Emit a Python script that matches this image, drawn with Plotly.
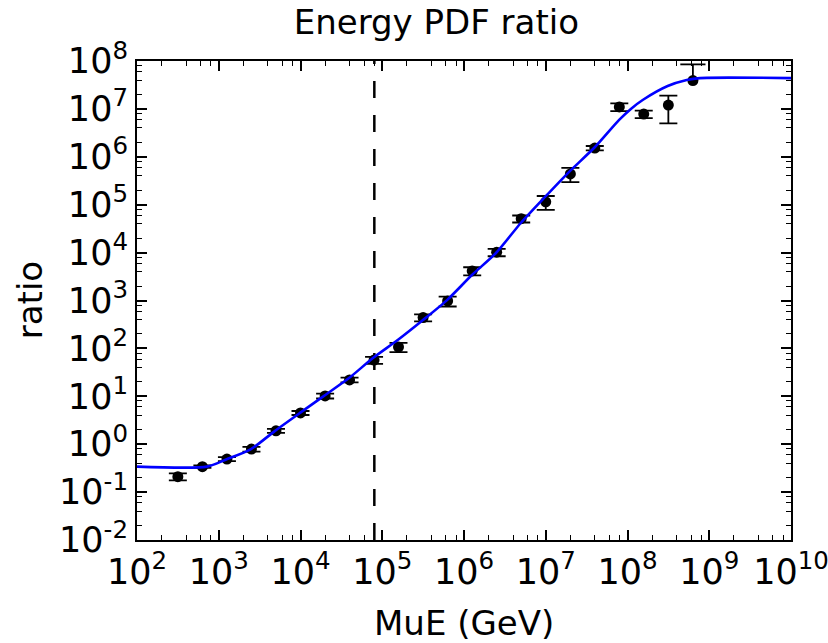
import plotly.graph_objects as go

# Muon energy bin centres (GeV) and measured PDF ratio with its uncertainty
energy = [316, 631, 1259, 2512, 5012, 1.0e4, 2.0e4, 3.98e4, 7.94e4, 1.58e5, 3.16e5,
          6.31e5, 1.26e6, 2.51e6, 5.01e6, 1.0e7, 2.0e7, 3.98e7, 7.94e7, 1.58e8,
          3.16e8, 6.31e8]
ratio = [0.21, 0.34, 0.49, 0.79, 1.9, 4.5, 10.2, 22, 57, 107, 440,
         980, 4150, 1.02e4, 5.1e4, 1.15e5, 4.4e5, 1.52e6, 1.1e7, 7.8e6,
         1.2e7, 3.9e7]
ratio_err = [0.035, 0.02, 0.045, 0.088, 0.18, 0.43, 1.2, 2.5, 9.5, 23, 75,
             230, 800, 1800, 8500, 3.7e4, 1.45e5, 1.6e5, 2.0e6, 1.4e6,
             7.0e6, 4.6e7]

# Smooth fit to the ratio
fit_energy = [100, 718, 1230, 2480, 4880, 9860, 1.94e4, 3.92e4, 7.7e4, 1.56e5,
              3.15e5, 6.2e5, 1.25e6, 2.46e6, 4.98e6, 9.8e6, 1.92e7, 4.0e7,
              7.9e7, 1.1e8, 1.55e8, 3.1e8, 5.3e8, 7.7e8, 1.0e10]
fit_ratio = [0.34, 0.34, 0.48, 0.79, 1.9, 4.5, 10.2, 24, 63, 151,
             390, 1020, 3400, 9800, 4.2e4, 1.45e5, 4.8e5, 1.6e6,
             5.9e6, 1.0e7, 1.55e7, 3.0e7, 4.0e7, 4.4e7, 4.4e7]

# Energy cut
energy_cut = 8.0e4

x_ticks = [10 ** k for k in range(2, 11)]
x_ticktext = ["10<sup>%d</sup>" % k for k in range(2, 11)]
y_ticks = [10 ** k for k in range(-2, 9)]
y_ticktext = ["10<sup>%d</sup>" % k for k in range(-2, 9)]

FONT = "DejaVu Sans"
TICK_SIZE = 35
LABEL_SIZE = 34

# points whose lower error stays positive get full bars; the rest only an upper bar
full = [i for i in range(len(energy)) if ratio[i] - ratio_err[i] > 0]
upper = [i for i in range(len(energy)) if ratio[i] - ratio_err[i] <= 0]

fig = go.Figure()

fig.add_trace(go.Scatter(
    x=[energy_cut, energy_cut], y=[y_ticks[0], y_ticks[-1]], mode="lines",
    line=dict(color="black", width=2.5, dash="17px,17px"), hoverinfo="skip"))

fig.add_trace(go.Scatter(
    x=[energy[i] for i in full], y=[ratio[i] for i in full], mode="markers",
    marker=dict(color="black", size=11),
    error_y=dict(type="data", array=[ratio_err[i] for i in full], symmetric=True,
                 color="black", thickness=1.8, width=9)))

fig.add_trace(go.Scatter(
    x=[energy[i] for i in upper], y=[ratio[i] for i in upper], mode="markers",
    marker=dict(color="black", size=11),
    error_y=dict(type="data", array=[ratio_err[i] for i in upper],
                 arrayminus=[0 for i in upper], symmetric=False,
                 color="black", thickness=1.8, width=0)))
fig.add_trace(go.Scatter(
    x=[energy[i] for i in upper], y=[ratio[i] + ratio_err[i] for i in upper],
    mode="markers", cliponaxis=False,
    marker=dict(symbol="line-ew", size=18, line=dict(color="black", width=1.8))))

fig.add_trace(go.Scatter(
    x=fit_energy, y=fit_ratio, mode="lines",
    line=dict(color="#0000ff", width=2.6, shape="spline", smoothing=0.7)))

axis_common = dict(
    type="log", showgrid=False, zeroline=False, showline=True, linecolor="black",
    linewidth=2, mirror="allticks", ticks="inside", ticklen=10, tickwidth=1.5,
    tickcolor="black", tickfont=dict(family=FONT, size=TICK_SIZE, color="black"),
    tickmode="array", automargin=False, ticklabeloverflow="allow",
)

fig.update_xaxes(
    **axis_common, range=[2, 10], tickvals=x_ticks, ticktext=x_ticktext,
    minor=dict(tickmode="array",
               tickvals=[m * 10 ** k for k in range(2, 10) for m in (2, 4, 6, 8)],
               ticks="inside", ticklen=5, tickwidth=1.2, tickcolor="black"))
fig.update_yaxes(
    **axis_common, range=[-2, 8], tickvals=y_ticks, ticktext=y_ticktext,
    minor=dict(tickmode="array",
               tickvals=[m * 10 ** k for k in range(-2, 8) for m in (2, 4, 6, 8)],
               ticks="inside", ticklen=5, tickwidth=1.2, tickcolor="black"))

label_font = dict(family=FONT, size=LABEL_SIZE, color="black")
fig.add_annotation(text="MuE (GeV)", xref="paper", yref="paper", x=0.5, y=-0.173,
                   xanchor="center", yanchor="middle", showarrow=False, font=label_font)
fig.add_annotation(text="ratio", xref="paper", yref="paper", x=-0.164, y=0.5,
                   xanchor="center", yanchor="middle", textangle=-90,
                   showarrow=False, font=label_font)

fig.update_layout(
    width=828, height=643, showlegend=False,
    paper_bgcolor="white", plot_bgcolor="white",
    margin=dict(l=137, r=37, t=61, b=103),
    title=dict(text="Energy PDF ratio", x=0.527, xanchor="center", y=0.966,
               yanchor="middle", font=dict(family=FONT, size=LABEL_SIZE, color="black")),
)

fig.write_html("out.html")
